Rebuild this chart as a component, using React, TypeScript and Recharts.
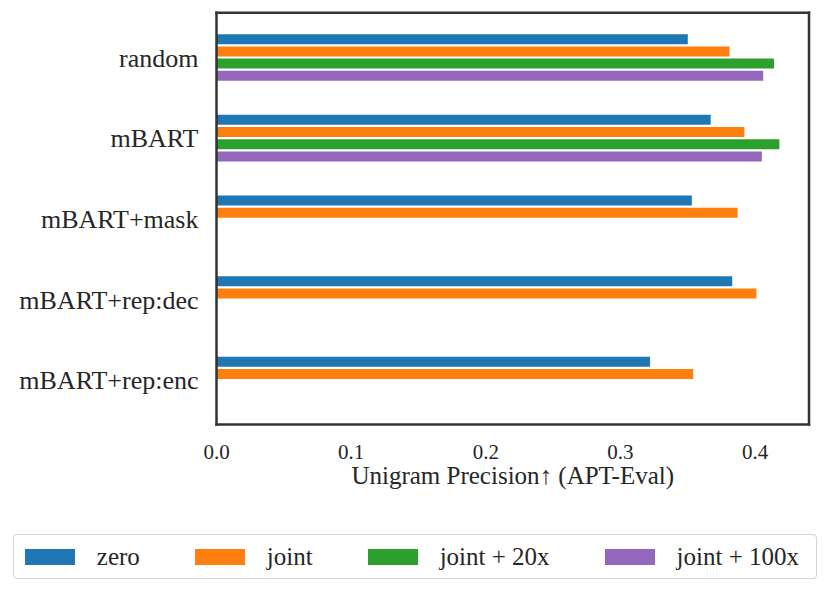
import { Bar, BarChart, Label, XAxis, YAxis } from "recharts";

const categories = ["random", "mBART", "mBART+mask", "mBART+rep:dec", "mBART+rep:enc"];
const zero = [0.35, 0.367, 0.353, 0.383, 0.322];
const joint = [0.381, 0.392, 0.387, 0.401, 0.354];
const joint20x = [0.414, 0.418, null, null, null];
const joint100x = [0.406, 0.405, null, null, null];
const xTicks = [0, 0.1, 0.2, 0.3, 0.4];

const series = [
  { key: "zero", name: "zero", color: "#1f77b4" },
  { key: "joint", name: "joint", color: "#ff7f0e" },
  { key: "joint20x", name: "joint + 20x", color: "#2ca02c" },
  { key: "joint100x", name: "joint + 100x", color: "#9467bd" },
];

const data = categories.map((name, i) => ({
  name,
  zero: zero[i],
  joint: joint[i],
  joint20x: joint20x[i],
  joint100x: joint100x[i],
}));

const FONT = '"Liberation Serif", "Times New Roman", serif';
const TEXT = "#262626";
const FRAME = { stroke: "#333333", strokeWidth: 2.5, strokeLinecap: "square" as const };

export default function App() {
  return (
    <div style={{ position: "relative", width: 830, height: 593, fontFamily: FONT }}>
      <style>{`body{margin:0}`}</style>
      <BarChart
        width={830}
        height={593}
        data={data}
        layout="vertical"
        margin={{ top: 11.7, right: 20, left: 0, bottom: 98.5 }}
        barSize={10}
        barGap={2.2}
      >
        <XAxis
          type="number"
          domain={[0, 0.44]}
          ticks={xTicks}
          tickFormatter={(v: number) => v.toFixed(1)}
          tickLine={false}
          tickSize={0}
          tickMargin={20}
          axisLine={FRAME}
          height={70}
          tick={{ fontSize: 21, fill: TEXT, fontFamily: FONT }}
        >
          <Label
            value="Unigram Precision↑ (APT-Eval)"
            position="insideBottom"
            offset={10.5}
            style={{ fontSize: 25, fill: TEXT, fontFamily: FONT }}
          />
        </XAxis>
        <XAxis
          xAxisId="top"
          orientation="top"
          type="number"
          domain={[0, 0.44]}
          tick={false}
          tickLine={false}
          height={1}
          axisLine={FRAME}
        />
        <YAxis
          type="category"
          dataKey="name"
          width={216.5}
          tickLine={false}
          tickSize={0}
          tickMargin={18}
          axisLine={FRAME}
          padding={{ top: 4.5, bottom: 4 }}
          tick={{ fontSize: 26, fill: TEXT, fontFamily: FONT }}
        />
        <YAxis
          yAxisId="right"
          orientation="right"
          type="category"
          dataKey="name"
          width={1}
          tick={false}
          tickLine={false}
          axisLine={FRAME}
        />
        {series.map((s) => (
          <Bar
            key={s.key}
            dataKey={s.key}
            name={s.name}
            fill={s.color}
            isAnimationActive={false}
          />
        ))}
      </BarChart>
      <div
        style={{
          position: "absolute",
          left: 13.3,
          top: 534,
          width: 803.4,
          height: 45,
          boxSizing: "border-box",
          border: "1.5px solid #d4d4d4",
          borderRadius: 4,
          display: "flex",
          alignItems: "center",
          paddingLeft: 10.5,
          gap: 55,
          fontSize: 25,
          color: TEXT,
        }}
      >
        {series.map((s) => (
          <div key={s.key} style={{ display: "flex", alignItems: "center" }}>
            <span style={{ width: 50, height: 16, background: s.color, marginRight: 22 }} />
            <span style={{ lineHeight: 1 }}>{s.name}</span>
          </div>
        ))}
      </div>
    </div>
  );
}
